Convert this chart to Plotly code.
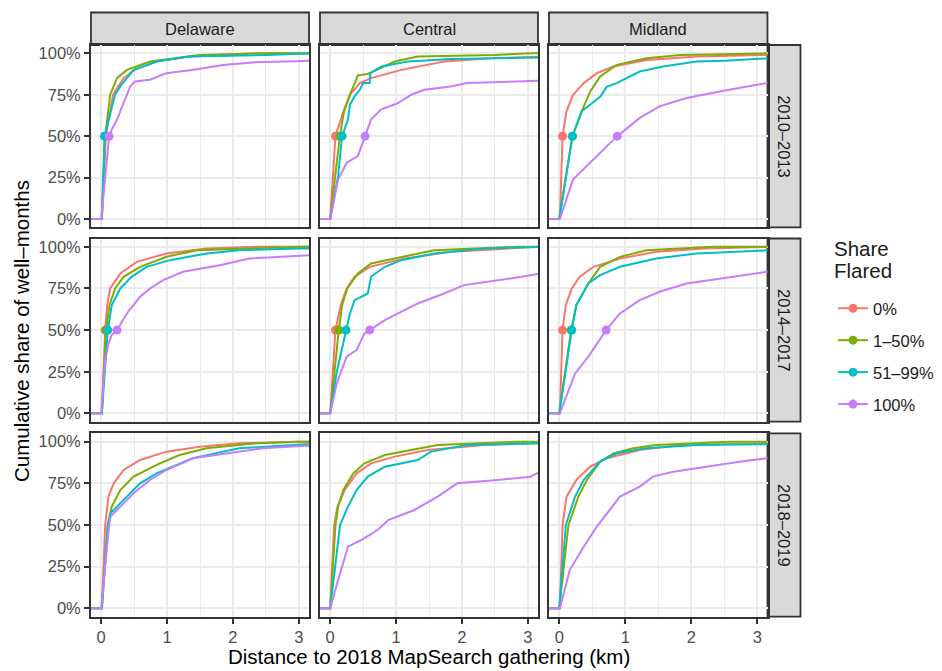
import plotly.graph_objects as go

W, H = 942, 671

regions = ["Delaware", "Central", "Midland"]
periods = ["2010–2013", "2014–2017", "2018–2019"]
groups = ["0%", "1–50%", "51–99%", "100%"]
colors = ["#F8766D", "#7CAE00", "#00BFC4", "#C77CFF"]
legend_title_lines = ["Share", "Flared"]

x_ticks = [0, 1, 2, 3]
y_ticks = [0, 0.25, 0.5, 0.75, 1.0]
y_tick_labels = ["0%", "25%", "50%", "75%", "100%"]

# ---- ECDF curves: (distance km, cumulative share) ----
# Delaware 2010-2013
del_1013_g0 = [(0.01, 0), (0.07, 0.5), (0.18, 0.75), (0.34, 0.85), (0.51, 0.9), (0.84, 0.95), (1.34, 0.98), (2.35, 1.0), (3.2, 1.0)]
del_1013_g1 = [(0.01, 0), (0.06, 0.5), (0.136, 0.75), (0.24, 0.85), (0.39, 0.9), (0.74, 0.95), (1.5, 0.99), (2.5, 1.0), (3.2, 1.0)]
del_1013_g2 = [(0.01, 0), (0.05, 0.5), (0.21, 0.75), (0.29, 0.8), (0.39, 0.85), (0.49, 0.9), (0.84, 0.95), (1.34, 0.98), (2.5, 0.99), (3.0, 1.0), (3.2, 1.0)]
del_1013_g3 = [(0.0, 0), (0.12, 0.5), (0.16, 0.54), (0.24, 0.6), (0.29, 0.65), (0.34, 0.7), (0.39, 0.75), (0.44, 0.8), (0.51, 0.83), (0.74, 0.84), (0.99, 0.88), (1.4, 0.9), (1.85, 0.93), (2.3, 0.945), (2.95, 0.952), (3.2, 0.955)]
# Central 2010-2013
cen_1013_g0 = [(0.0, 0), (0.08, 0.5), (0.2, 0.65), (0.3, 0.75), (0.45, 0.82), (0.62, 0.85), (1.08, 0.9), (1.73, 0.95), (2.44, 0.97), (3.2, 0.98)]
cen_1013_g1 = [(0.0, 0), (0.146, 0.5), (0.21, 0.65), (0.3, 0.75), (0.42, 0.867), (0.57, 0.875), (0.7, 0.9), (0.98, 0.95), (1.33, 0.98), (2.5, 0.99), (3.05, 1.0), (3.2, 1.0)]
cen_1013_g2 = [(0.0, 0), (0.12, 0.26), (0.18, 0.5), (0.27, 0.6), (0.3, 0.69), (0.37, 0.74), (0.45, 0.78), (0.5, 0.82), (0.6, 0.82), (0.61, 0.88), (0.78, 0.92), (1.18, 0.95), (1.83, 0.965), (3.2, 0.975)]
cen_1013_g3 = [(0.0, 0), (0.12, 0.24), (0.25, 0.34), (0.42, 0.38), (0.47, 0.44), (0.53, 0.5), (0.62, 0.6), (0.77, 0.66), (1.03, 0.7), (1.23, 0.75), (1.43, 0.78), (1.83, 0.8), (2.08, 0.82), (3.0, 0.83), (3.2, 0.835)]
# Midland 2010-2013
mid_1013_g0 = [(0.01, 0), (0.05, 0.5), (0.11, 0.65), (0.21, 0.75), (0.37, 0.82), (0.57, 0.88), (0.82, 0.92), (1.32, 0.96), (2.08, 0.98), (3.2, 0.99)]
mid_1013_g1 = [(0.0, 0), (0.2, 0.5), (0.34, 0.65), (0.47, 0.77), (0.62, 0.86), (0.87, 0.93), (1.32, 0.97), (1.83, 0.99), (3.0, 1.0), (3.2, 1.0)]
mid_1013_g2 = [(0.0, 0), (0.2, 0.5), (0.34, 0.65), (0.62, 0.737), (0.72, 0.797), (0.87, 0.82), (1.12, 0.87), (1.22, 0.89), (1.57, 0.92), (2.08, 0.95), (2.5, 0.955), (3.2, 0.97)]
mid_1013_g3 = [(0.01, 0), (0.21, 0.24), (0.47, 0.34), (0.72, 0.44), (0.88, 0.5), (1.22, 0.61), (1.52, 0.68), (1.93, 0.73), (2.43, 0.77), (3.14, 0.82), (3.2, 0.825)]
# Delaware 2014-2017
del_1417_g0 = [(0.01, 0), (0.06, 0.5), (0.09, 0.65), (0.136, 0.75), (0.29, 0.84), (0.54, 0.91), (0.99, 0.96), (1.6, 0.99), (2.35, 1.0), (3.2, 1.0)]
del_1417_g1 = [(0.01, 0), (0.07, 0.5), (0.126, 0.65), (0.21, 0.75), (0.34, 0.82), (0.59, 0.88), (0.99, 0.94), (1.45, 0.98), (2.1, 0.99), (3.0, 1.0), (3.2, 1.0)]
del_1417_g2 = [(0.01, 0), (0.1, 0.5), (0.16, 0.65), (0.29, 0.75), (0.46, 0.82), (0.69, 0.88), (1.04, 0.92), (1.6, 0.96), (2.1, 0.98), (3.0, 0.99), (3.2, 0.99)]
del_1417_g3 = [(0.0, 0), (0.06, 0.32), (0.11, 0.42), (0.16, 0.47), (0.24, 0.5), (0.39, 0.6), (0.59, 0.7), (0.74, 0.75), (0.94, 0.8), (1.24, 0.85), (1.8, 0.89), (2.25, 0.93), (3.13, 0.95), (3.2, 0.95)]
# Central 2014-2017
cen_1417_g0 = [(0.0, 0), (0.08, 0.5), (0.16, 0.65), (0.25, 0.75), (0.37, 0.82), (0.6, 0.88), (1.13, 0.93), (1.83, 0.97), (2.59, 0.99), (3.14, 1.0), (3.2, 1.0)]
cen_1417_g1 = [(0.0, 0), (0.13, 0.5), (0.18, 0.65), (0.26, 0.75), (0.42, 0.84), (0.62, 0.9), (1.08, 0.94), (1.58, 0.98), (2.84, 1.0), (3.2, 1.0)]
cen_1417_g2 = [(0.0, 0), (0.1, 0.25), (0.24, 0.5), (0.3, 0.6), (0.37, 0.68), (0.57, 0.72), (0.62, 0.82), (0.83, 0.88), (1.08, 0.92), (1.58, 0.96), (2.34, 0.99), (3.14, 1.0), (3.2, 1.0)]
cen_1417_g3 = [(0.0, 0), (0.1, 0.18), (0.25, 0.34), (0.4, 0.38), (0.52, 0.48), (0.6, 0.5), (0.83, 0.56), (1.03, 0.6), (1.33, 0.66), (1.73, 0.72), (2.03, 0.77), (2.74, 0.81), (3.14, 0.84), (3.2, 0.84)]
# Midland 2014-2017
mid_1417_g0 = [(0.01, 0), (0.05, 0.5), (0.1, 0.65), (0.19, 0.75), (0.31, 0.82), (0.52, 0.88), (0.92, 0.93), (1.47, 0.97), (2.2, 0.99), (3.14, 1.0), (3.2, 1.0)]
mid_1417_g1 = [(0.0, 0), (0.18, 0.5), (0.26, 0.65), (0.44, 0.78), (0.62, 0.88), (0.92, 0.94), (1.32, 0.98), (2.33, 1.0), (3.2, 1.0)]
mid_1417_g2 = [(0.0, 0), (0.19, 0.5), (0.26, 0.65), (0.44, 0.78), (0.62, 0.83), (0.92, 0.88), (1.47, 0.93), (2.08, 0.96), (3.14, 0.98), (3.2, 0.98)]
mid_1417_g3 = [(0.01, 0), (0.24, 0.24), (0.44, 0.34), (0.71, 0.5), (0.92, 0.6), (1.22, 0.68), (1.52, 0.73), (1.93, 0.78), (2.43, 0.81), (3.14, 0.85), (3.2, 0.85)]
# Delaware 2018-2019
del_1819_g0 = [(0.01, 0), (0.06, 0.5), (0.11, 0.67), (0.19, 0.75), (0.34, 0.83), (0.59, 0.89), (0.99, 0.94), (1.5, 0.97), (2.1, 0.99), (2.96, 1.0), (3.2, 1.0)]
del_1819_g1 = [(0.01, 0), (0.1, 0.5), (0.16, 0.61), (0.29, 0.71), (0.49, 0.79), (0.89, 0.87), (1.19, 0.92), (1.6, 0.96), (2.35, 0.99), (3.0, 1.0), (3.2, 1.0)]
del_1819_g2 = [(0.01, 0), (0.1, 0.5), (0.14, 0.57), (0.39, 0.67), (0.59, 0.75), (0.84, 0.81), (1.09, 0.85), (1.39, 0.9), (1.85, 0.94), (2.1, 0.96), (3.1, 0.985), (3.2, 0.985)]
del_1819_g3 = [(0.0, 0), (0.12, 0.5), (0.14, 0.55), (0.34, 0.63), (0.49, 0.69), (0.74, 0.77), (0.99, 0.83), (1.39, 0.9), (1.95, 0.93), (2.45, 0.96), (3.1, 0.975), (3.2, 0.975)]
# Central 2018-2019
cen_1819_g0 = [(0.0, 0), (0.06, 0.5), (0.11, 0.61), (0.22, 0.71), (0.4, 0.81), (0.62, 0.87), (0.98, 0.91), (1.48, 0.95), (2.34, 0.98), (3.14, 0.99), (3.2, 0.99)]
cen_1819_g1 = [(0.0, 0), (0.08, 0.5), (0.12, 0.61), (0.2, 0.71), (0.35, 0.81), (0.52, 0.87), (0.83, 0.92), (1.23, 0.95), (1.63, 0.98), (2.84, 1.0), (3.2, 1.0)]
cen_1819_g2 = [(0.0, 0), (0.15, 0.5), (0.27, 0.61), (0.4, 0.71), (0.57, 0.79), (0.83, 0.85), (1.33, 0.89), (1.53, 0.94), (2.08, 0.98), (3.14, 0.99), (3.2, 0.99)]
cen_1819_g3 = [(0.0, 0), (0.12, 0.17), (0.27, 0.37), (0.47, 0.41), (0.72, 0.47), (0.88, 0.53), (1.28, 0.59), (1.63, 0.67), (1.93, 0.75), (2.54, 0.77), (3.04, 0.79), (3.14, 0.81), (3.2, 0.82)]
# Midland 2018-2019
mid_1819_g0 = [(0.01, 0), (0.05, 0.5), (0.11, 0.67), (0.26, 0.77), (0.47, 0.85), (0.72, 0.9), (1.22, 0.95), (1.83, 0.98), (3.14, 0.99), (3.2, 0.99)]
mid_1819_g1 = [(0.0, 0), (0.14, 0.5), (0.29, 0.67), (0.42, 0.77), (0.62, 0.88), (0.82, 0.93), (1.12, 0.96), (1.47, 0.98), (2.58, 1.0), (3.2, 1.0)]
mid_1819_g2 = [(0.0, 0), (0.1, 0.5), (0.24, 0.67), (0.37, 0.77), (0.62, 0.88), (0.87, 0.93), (1.32, 0.96), (2.08, 0.98), (3.14, 0.985), (3.2, 0.985)]
mid_1819_g3 = [(0.01, 0), (0.16, 0.23), (0.37, 0.37), (0.57, 0.49), (0.72, 0.57), (0.92, 0.67), (1.22, 0.73), (1.42, 0.79), (1.73, 0.82), (2.23, 0.85), (2.73, 0.88), (3.14, 0.9), (3.2, 0.9)]

# ---- median distances (shown as points at 50%); none drawn for 2018-2019 ----
med_del_1013 = [0.07, 0.06, 0.05, 0.12]
med_cen_1013 = [0.08, 0.15, 0.18, 0.53]
med_mid_1013 = [0.05, 0.2, 0.2, 0.88]
med_del_1417 = [0.06, 0.07, 0.1, 0.24]
med_cen_1417 = [0.08, 0.13, 0.24, 0.6]
med_mid_1417 = [0.05, 0.18, 0.19, 0.71]

curves = {
    (0, 0): [del_1013_g0, del_1013_g1, del_1013_g2, del_1013_g3],
    (0, 1): [cen_1013_g0, cen_1013_g1, cen_1013_g2, cen_1013_g3],
    (0, 2): [mid_1013_g0, mid_1013_g1, mid_1013_g2, mid_1013_g3],
    (1, 0): [del_1417_g0, del_1417_g1, del_1417_g2, del_1417_g3],
    (1, 1): [cen_1417_g0, cen_1417_g1, cen_1417_g2, cen_1417_g3],
    (1, 2): [mid_1417_g0, mid_1417_g1, mid_1417_g2, mid_1417_g3],
    (2, 0): [del_1819_g0, del_1819_g1, del_1819_g2, del_1819_g3],
    (2, 1): [cen_1819_g0, cen_1819_g1, cen_1819_g2, cen_1819_g3],
    (2, 2): [mid_1819_g0, mid_1819_g1, mid_1819_g2, mid_1819_g3],
}
medians = {
    (0, 0): med_del_1013, (0, 1): med_cen_1013, (0, 2): med_mid_1013,
    (1, 0): med_del_1417, (1, 1): med_cen_1417, (1, 2): med_mid_1417,
}

X_RANGE = [-0.155, 3.155]
Y_RANGE = [-0.05, 1.05]

# layout geometry (pixels)
col_px = [(91, 309), (320, 538), (549, 767.5)]
row_px = [(45, 227.3), (238.5, 421.7), (433.3, 616.7)]

def px_x(p):
    return p / W

def px_y(p):
    return 1 - p / H

FONT = "Liberation Sans, Arial, sans-serif"
TICK_FS = 16.5
fig = go.Figure()
layout = dict(
    width=W, height=H, margin=dict(l=0, r=0, t=0, b=0, autoexpand=False),
    paper_bgcolor="white", plot_bgcolor="white",
    font=dict(family=FONT, color="#1A1A1A"),
    showlegend=True,
)

shapes = []
annotations = []

for r in range(3):
    for c in range(3):
        k = r * 3 + c + 1
        xa = "xaxis" if k == 1 else f"xaxis{k}"
        ya = "yaxis" if k == 1 else f"yaxis{k}"
        xref = "x" if k == 1 else f"x{k}"
        yref = "y" if k == 1 else f"y{k}"
        bottom = r == 2
        left = c == 0
        layout[xa] = dict(
            domain=[px_x(col_px[c][0]), px_x(col_px[c][1])],
            anchor=yref, range=X_RANGE, tickvals=x_ticks,
            showticklabels=bottom, ticks="outside" if bottom else "",
            ticklen=5, tickwidth=1.8, tickcolor="#333333",
            tickfont=dict(size=TICK_FS, color="#4D4D4D"),
            showgrid=True, gridcolor="#EBEBEB", gridwidth=2,
            minor=dict(dtick=0.5, tick0=0, showgrid=True, gridcolor="#EBEBEB", gridwidth=1.2, ticks=""),
            zeroline=False, showline=True, linecolor="#333333", linewidth=1.8, mirror=True,
            fixedrange=True,
        )
        layout[ya] = dict(
            domain=[px_y(row_px[r][1]), px_y(row_px[r][0])],
            anchor=xref, range=Y_RANGE, tickvals=y_ticks, ticktext=y_tick_labels,
            showticklabels=left, ticks="outside" if left else "",
            ticklen=5, tickwidth=1.8, tickcolor="#333333",
            tickfont=dict(size=TICK_FS, color="#4D4D4D"),
            showgrid=True, gridcolor="#EBEBEB", gridwidth=2,
            zeroline=False, showline=True, linecolor="#333333", linewidth=1.8, mirror=True,
            fixedrange=True,
        )
        for g in range(4):
            pts = curves[(r, c)][g]
            xs = [X_RANGE[0] - 0.1] + [p[0] for p in pts]
            ys = [0] + [p[1] for p in pts]
            fig.add_trace(go.Scatter(
                x=xs, y=ys, mode="lines", xaxis=xref, yaxis=yref,
                line=dict(color=colors[g], width=2), showlegend=False,
                legendgroup=groups[g], hoverinfo="skip",
            ))
        if (r, c) in medians:
            for g in range(4):
                fig.add_trace(go.Scatter(
                    x=[medians[(r, c)][g]], y=[0.5], mode="markers",
                    xaxis=xref, yaxis=yref,
                    marker=dict(color=colors[g], size=9), showlegend=False,
                    legendgroup=groups[g], hoverinfo="skip",
                ))

# strips
for c in range(3):
    shapes.append(dict(type="rect", xref="paper", yref="paper",
                       x0=px_x(col_px[c][0]), x1=px_x(col_px[c][1]),
                       y0=px_y(45), y1=px_y(12.5),
                       fillcolor="#D9D9D9", line=dict(color="#333333", width=1.8), layer="below"))
    annotations.append(dict(text=regions[c], xref="paper", yref="paper",
                            x=px_x((col_px[c][0] + col_px[c][1]) / 2), y=px_y(29),
                            xanchor="center", yanchor="middle",
                            showarrow=False, font=dict(size=TICK_FS, color="#1A1A1A")))
for r in range(3):
    shapes.append(dict(type="rect", xref="paper", yref="paper",
                       x0=px_x(767.5), x1=px_x(800.5),
                       y0=px_y(row_px[r][1]), y1=px_y(row_px[r][0]),
                       fillcolor="#D9D9D9", line=dict(color="#333333", width=1.8), layer="below"))
    annotations.append(dict(text=periods[r], xref="paper", yref="paper",
                            x=px_x(784), y=px_y((row_px[r][0] + row_px[r][1]) / 2),
                            xanchor="center", yanchor="middle",
                            textangle=90, showarrow=False, font=dict(size=TICK_FS, color="#1A1A1A")))

# axis titles
annotations.append(dict(text="Distance to 2018 MapSearch gathering (km)", xref="paper", yref="paper",
                        x=px_x((91 + 767.5) / 2), y=px_y(656), xanchor="center", yanchor="middle",
                        showarrow=False, font=dict(size=20.5, color="black")))
annotations.append(dict(text="Cumulative share of well–months", xref="paper", yref="paper",
                        x=px_x(21), y=px_y(331), xanchor="center", yanchor="middle",
                        textangle=-90, showarrow=False, font=dict(size=20.5, color="black")))

# legend title (two lines, tight spacing like the reference)
for i, line_text in enumerate(legend_title_lines):
    annotations.append(dict(text=line_text, xref="paper", yref="paper",
                            x=px_x(832), y=px_y(248 + 22 * i), xanchor="left", yanchor="middle",
                            showarrow=False, font=dict(size=20.5, color="#1A1A1A")))

# legend entries
for g in range(4):
    fig.add_trace(go.Scatter(
        x=[None], y=[None], mode="lines+markers", name=groups[g],
        line=dict(color=colors[g], width=2), marker=dict(color=colors[g], size=9),
        legendgroup=groups[g], showlegend=True,
    ))

layout["legend"] = dict(
    x=px_x(833), y=px_y(291), xanchor="left", yanchor="top",
    font=dict(size=16.5, color="#1A1A1A"),
    tracegroupgap=7.5, bgcolor="rgba(0,0,0,0)", itemwidth=30,
)
layout["shapes"] = shapes
layout["annotations"] = annotations
fig.update_layout(**layout)

fig.write_html("out.html", config={"displayModeBar": False},
               post_script="document.body.style.margin='0';document.body.style.padding='0';")
